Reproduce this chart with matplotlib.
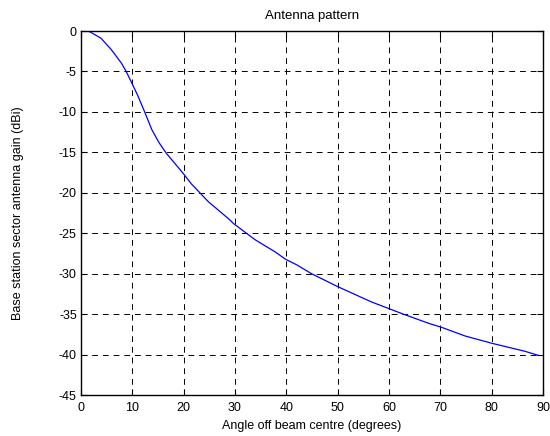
import numpy as np
import matplotlib
matplotlib.use("Agg")
import matplotlib.pyplot as plt

plt.rcParams['font.family'] = ['Liberation Sans', 'DejaVu Sans']
plt.rcParams['axes.unicode_minus'] = False

# antenna gain (degrees, dBi)
angle = [0, 1, 1.75, 3.9, 5.9, 7.9, 8.8, 9.8, 11, 12.4, 13.8, 15.2, 16.6,
         19.9, 21.5, 24.8, 28.9, 29.7, 33.9, 37.8, 39.8, 42, 44.9, 50, 56.6,
         59.9, 63.2, 68, 70.1, 74.8, 80, 86.5, 89.1]
gain = [0, 0, -0.1, -0.9, -2.3, -4.0, -5.0, -6.3, -7.9, -10.0, -12.2, -13.8,
        -15.1, -17.6, -18.9, -21.1, -23.3, -23.8, -25.8, -27.3, -28.2, -28.9,
        -30.0, -31.6, -33.5, -34.3, -35.1, -36.2, -36.6, -37.7, -38.6, -39.6,
        -40.1]

xticks = list(range(0, 91, 10))
yticks = list(range(-45, 1, 5))

fig = plt.figure(figsize=(5.5, 4.36), dpi=100)
ax = fig.add_axes([81 / 550, 1 - 395 / 436, 462 / 550, 364 / 436])

ax.plot(angle, gain, color='#0000ff', linewidth=0.9)

ax.set_xlim(0, 90)
ax.set_ylim(-45, 0)
ax.set_xticks(xticks)
ax.set_yticks(yticks)
ax.tick_params(direction='in', length=4, width=0.8, labelsize=9, top=True, right=True)
ax.tick_params(axis='x', pad=5)
ax.tick_params(axis='y', pad=3)
ax.grid(True, color='black', linestyle=(0, (6, 5)), linewidth=0.7)
for s in ax.spines.values():
    s.set_linewidth(1.0)

ax.set_title('Antenna pattern', fontsize=9.5, pad=9)
ax.set_xlabel('Angle off beam centre (degrees)', fontsize=9, labelpad=4)
ax.set_ylabel('Base station sector antenna gain (dBi)', fontsize=9, labelpad=25)

fig.savefig('out.png', dpi=100)
